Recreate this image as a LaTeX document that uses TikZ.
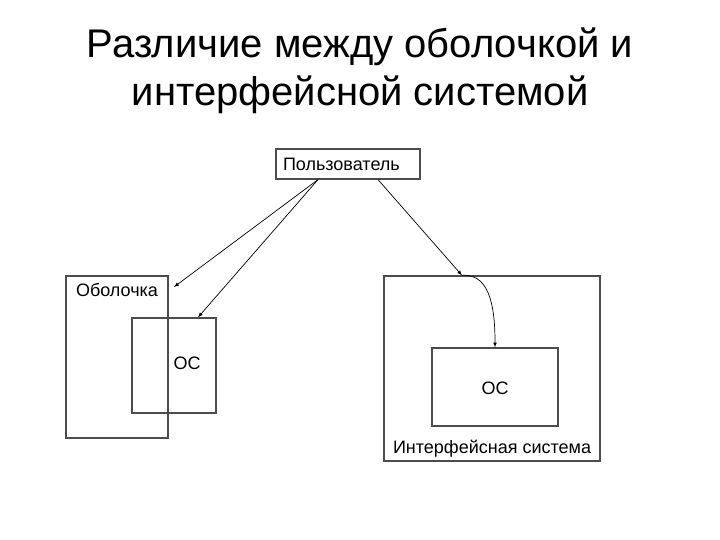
\documentclass[tikz,border=0pt]{standalone}
\usepackage{fontspec}
\setmainfont{Liberation Sans}
\tikzset{>=latex}
\tikzset{
  frame/.style={draw=black!70, line width=1.2pt, inner sep=0pt},
  lbl/.style={inner sep=0pt, font=\fontsize{18}{21}\selectfont},
  link/.style={->, line width=0.7pt}
}

\begin{document}
\begin{tikzpicture}[x=1pt,y=-1pt]
\useasboundingbox (0,0) rectangle (720,540);

\node[inner sep=0pt, align=center, font=\fontsize{40}{48}\selectfont, anchor=base] (title) at (360,106) {Различие между оболочкой и\\интерфейсной системой};

\node[frame, minimum width=144pt, minimum height=30pt, text width=130pt, inner xsep=7pt, align=left, font=\fontsize{18}{21}\selectfont] (user) at (348,164) {Пользователь};

\node[frame, minimum width=102pt, minimum height=162pt] (shell) at (117,357) {};
\node[frame, minimum width=84pt, minimum height=95pt] (osA) at (174,365.5) {};
\node[lbl] (shelltext) at (117,290) {Оболочка};
\node[lbl] (osAtext) at (187,363) {ОС};

\node[frame, minimum width=216pt, minimum height=185pt] (iface) at (492,368.5) {};
\node[frame, minimum width=126pt, minimum height=78pt] (osB) at (495,387) {};
\node[lbl] (osBtext) at (495,388) {ОС};
\node[lbl] (ifacetext) at (492,449) {Интерфейсная система};

\coordinate (shellin) at (174,287);
\coordinate (ifacein) at ([xshift=-30pt]iface.north);

\draw[link] ([xshift=-30pt]user.south) -- (shellin);
\draw[link] ([xshift=-30pt]user.south) -- ([xshift=24pt]osA.north);
\draw[link] ([xshift=30pt]user.south) -- (ifacein);
\draw[link] (ifacein) to[out=5,in=90] (osB.north);

\end{tikzpicture}
\end{document}
